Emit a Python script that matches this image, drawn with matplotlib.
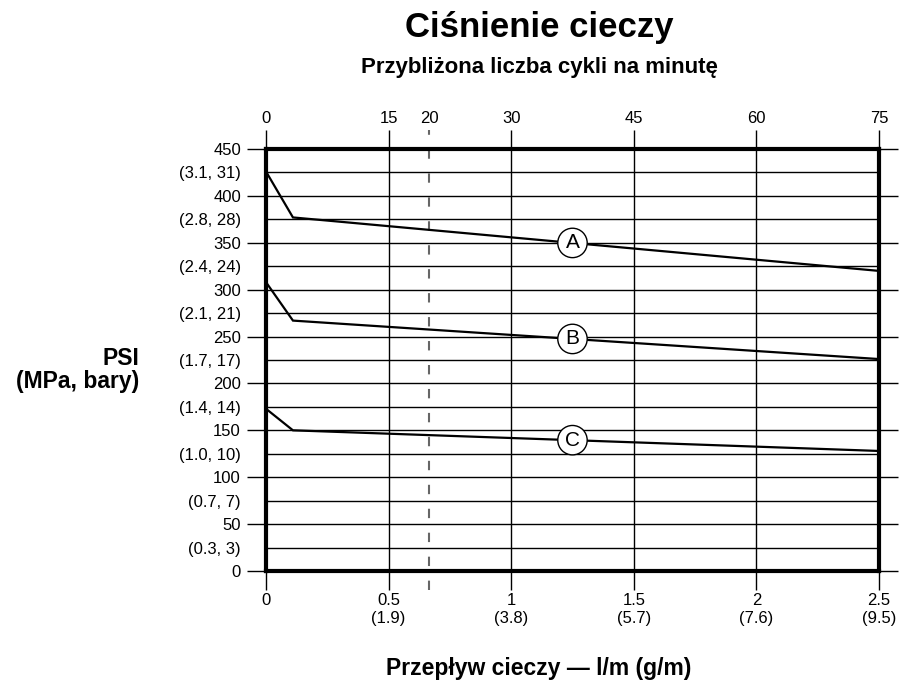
import matplotlib
matplotlib.use('Agg')
import matplotlib.pyplot as plt
import numpy as np

plt.rcParams['font.family'] = ['Liberation Sans', 'DejaVu Sans']

# flow in l/m, pressure in psi
flow = [0.0, 0.11, 2.5]
curve_a = [426, 377, 320]
curve_b = [308, 267, 226]
curve_c = [173, 150, 128]
curve_names = ['A', 'B', 'C']
label_flow = 1.25

psi_major = [0, 50, 100, 150, 200, 250, 300, 350, 400, 450]
psi_minor = [25, 75, 125, 175, 225, 275, 325, 375, 425]
psi_minor_labels = ['(0.3, 3)', '(0.7, 7)', '(1.0, 10)', '(1.4, 14)', '(1.7, 17)',
                    '(2.1, 21)', '(2.4, 24)', '(2.8, 28)', '(3.1, 31)']
flow_ticks = [0, 0.5, 1, 1.5, 2, 2.5]
flow_labels = ['0', '0.5\n(1.9)', '1\n(3.8)', '1.5\n(5.7)', '2\n(7.6)', '2.5\n(9.5)']
cycle_ticks = [0, 15, 30, 45, 60, 75]
cycle_extra = 20
cycles_per_lpm = 30

fig = plt.figure(figsize=(9.09, 6.84), dpi=100)
ax = fig.add_axes([0.2926, 0.1652, 0.6744, 0.6170])
ax.set_xlim(0, 2.5)
ax.set_ylim(0, 450)

# grid
ax.set_yticks(psi_major)
ax.set_yticks(psi_minor, labels=psi_minor_labels, minor=True)
ax.set_xticks(flow_ticks, labels=flow_labels)
ax.grid(axis='y', which='both', color='black', lw=1.0, zorder=1)
ax.grid(axis='x', which='major', color='black', lw=1.0, zorder=1)

for s in ax.spines.values():
    s.set_linewidth(3.0)
    s.set_zorder(5)

fs = 12
tl = 14.0
ax.tick_params(axis='y', which='major', left=True, right=True, labelright=False,
               length=tl, width=1.0, pad=4, labelsize=fs, direction='out')
ax.tick_params(axis='y', which='minor', left=False, right=False, length=0,
               pad=tl + 4, labelsize=fs)
ax.tick_params(axis='x', which='major', length=13.5, width=1.0, pad=2,
               labelsize=fs, direction='out')
for lbl in ax.get_xticklabels():
    lbl.set_linespacing(1.25)

# curves
for name, vals in zip(curve_names, [curve_a, curve_b, curve_c]):
    ax.plot(flow, vals, color='black', lw=1.6, zorder=3, solid_joinstyle='miter')
    ax.text(label_flow, np.interp(label_flow, flow, vals), name, fontsize=15,
            ha='center', va='center', zorder=6,
            bbox=dict(boxstyle='circle,pad=0.25', fc='white', ec='black', lw=1.0))

# 20 cycles reference line
ax.axvline(cycle_extra / cycles_per_lpm, ymin=-0.045, ymax=1.045, clip_on=False,
           color='#666666', lw=1.5, dashes=(4.5, 7.0), zorder=2)

# top axis: cycles per minute
sec = ax.secondary_xaxis('top', functions=(lambda f: f * cycles_per_lpm,
                                           lambda c: c / cycles_per_lpm))
sec.set_xticks(cycle_ticks)
sec.set_xticks([cycle_extra], labels=[str(cycle_extra)], minor=True)
sec.tick_params(which='major', length=13.5, width=1.0, pad=3, labelsize=fs)
sec.tick_params(which='minor', length=0, pad=13.5 + 3, labelsize=fs)
sec.spines['top'].set_visible(False)

fig.text(0.593, 0.946, 'Ciśnienie cieczy', fontsize=25, fontweight='bold',
         ha='center', va='baseline')
fig.text(0.593, 0.894, 'Przybliżona liczba cykli na minutę', fontsize=16,
         fontweight='bold', ha='center', va='baseline')
fig.text(0.593, 0.013, 'Przepływ cieczy — l/m (g/m)', fontsize=16.5,
         fontweight='bold', ha='center', va='baseline')
fig.text(0.153, 1 - 365 / 684, 'PSI', fontsize=16.5, fontweight='bold',
         ha='right', va='baseline')
fig.text(0.153, 1 - 388 / 684, '(MPa, bary)', fontsize=16.5, fontweight='bold',
         ha='right', va='baseline')

fig.savefig('out.png', dpi=100)
